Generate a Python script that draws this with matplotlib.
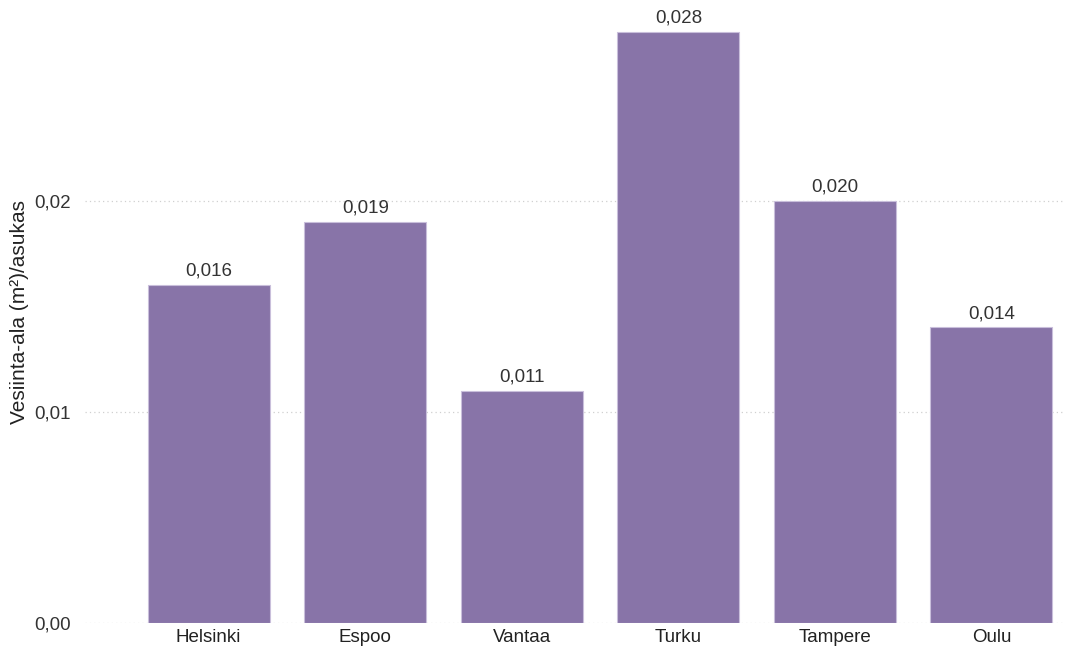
import matplotlib.pyplot as plt

plt.rcParams['font.family'] = ['Liberation Sans', 'DejaVu Sans']

# Data
cities = ['Helsinki', 'Espoo', 'Vantaa', 'Turku', 'Tampere', 'Oulu']
area_per_resident = [0.016, 0.019, 0.011, 0.028, 0.020, 0.014]
yticks = [0.00, 0.01, 0.02]

fig = plt.figure(figsize=(10.68, 6.51), dpi=100)
ax = fig.add_axes([85 / 1068, 28 / 651, 980 / 1068, 623 / 651])

x = range(len(cities))
ax.bar(x, area_per_resident, width=0.78, color='#8874a8', edgecolor='#c9bfdb', linewidth=0.8, zorder=3)

for i, v in enumerate(area_per_resident):
    ax.text(i, v + 0.00025, f'{v:.3f}'.replace('.', ','), ha='center', va='bottom',
            fontsize=13.5, color='#333333')

ax.set_xlim(-0.79, 5.47)
ax.set_ylim(0, 0.0295)
ax.set_xticks(list(x))
ax.set_xticklabels(cities, fontsize=13.5, color='#222222')
ax.set_yticks(yticks)
ax.set_yticklabels([f'{t:.2f}'.replace('.', ',') for t in yticks], fontsize=13.5, color='#333333')
ax.tick_params(length=0, pad=4)
ax.tick_params(axis='y', pad=10)

ax.grid(axis='y', linestyle=(0, (1, 2.5)), color='#d0d0d0', linewidth=0.9, zorder=0)
for s in ax.spines.values():
    s.set_visible(False)

ax.set_ylabel('Vesiinta-ala (m²)/asukas', fontsize=15, color='#222222', labelpad=4)

fig.savefig('out.png', dpi=100)
